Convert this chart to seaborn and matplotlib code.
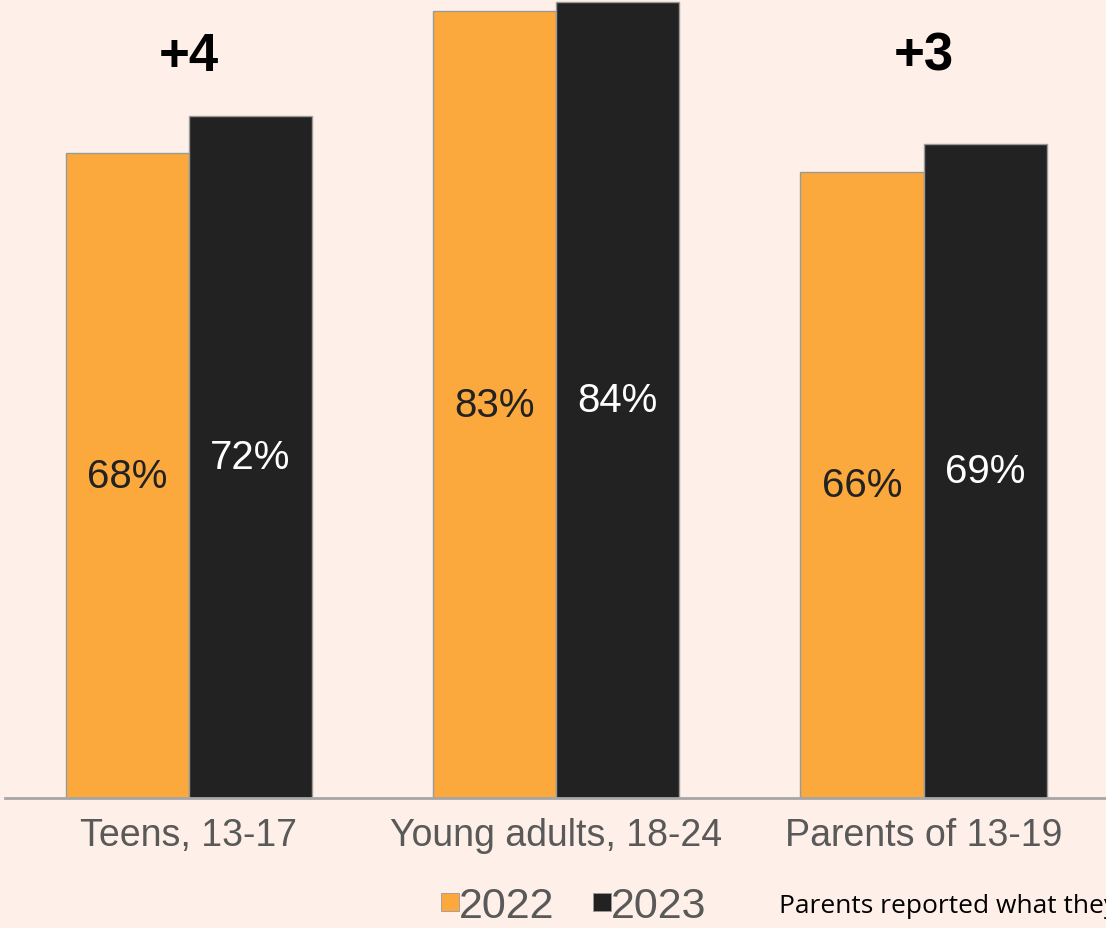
import pandas as pd
import matplotlib.pyplot as plt
import seaborn as sns
from matplotlib.lines import Line2D

groups = ["Teens, 13-17", "Young adults, 18-24", "Parents of 13-19"]
years = ["2022", "2023"]
vals_2022 = [68, 83, 66]
vals_2023 = [72, 84, 69]
changes = ["+4", "", "+3"]

bg = "#FEF0E8"
colors = {"2022": "#FBA83C", "2023": "#222222"}

df = pd.DataFrame({
    "group": groups * 2,
    "year": ["2022"] * 3 + ["2023"] * 3,
    "value": vals_2022 + vals_2023,
})

sns.set_style("white")
plt.rcParams["font.family"] = ["Liberation Sans", "DejaVu Sans"]

fig = plt.figure(figsize=(11.06, 9.29), dpi=100, facecolor=bg)
ax = fig.add_axes([0.0045, 0.14, 1.0, 0.86])
ax.set_facecolor(bg)

sns.barplot(data=df, x="group", y="value", hue="year", order=groups,
            hue_order=years, palette=colors, saturation=1, width=0.67, gap=0,
            edgecolor="#9a9a9a", linewidth=1, legend=False, ax=ax)

# value labels in the middle of bars
for cont, yr in zip(ax.containers, years):
    vals = vals_2022 if yr == "2022" else vals_2023
    ax.bar_label(cont, labels=[f"{v}%" for v in vals], label_type="center",
                 fontsize=29, color="#222222" if yr == "2022" else "white")

# change annotations above groups
for i, txt in enumerate(changes):
    if txt:
        ax.text(i, 78.3, txt, ha="center", va="center", fontsize=38,
                fontweight="bold", color="black")

ax.set_xlim(-0.5, 2.51)
ax.set_ylim(0, 84.3)
ax.set_xlabel("")
ax.set_ylabel("")
ax.set_yticks([])
ax.tick_params(axis="x", length=0, pad=14, labelsize=27, labelcolor="#595959")
for s in ["top", "right", "left"]:
    ax.spines[s].set_visible(False)
ax.spines["bottom"].set_color("#a6a6a6")
ax.spines["bottom"].set_linewidth(2)

handles = [Line2D([], [], marker="s", linestyle="none", markersize=13,
                  markerfacecolor=colors[y], markeredgecolor="#9a9a9a",
                  markeredgewidth=0.6) for y in years]
fig.legend(handles, years, loc="center", bbox_to_anchor=(0.513, 0.024),
           ncol=2, frameon=False, fontsize=31, labelcolor="#595959",
           handletextpad=-0.3, columnspacing=0.6, handlelength=1.0)

fig.text(0.704, 0.024, "Parents reported what they", fontsize=19,
         color="black", va="center", family=["Open Sans", "DejaVu Sans"])

fig.savefig("out.png", dpi=100, facecolor=bg)
